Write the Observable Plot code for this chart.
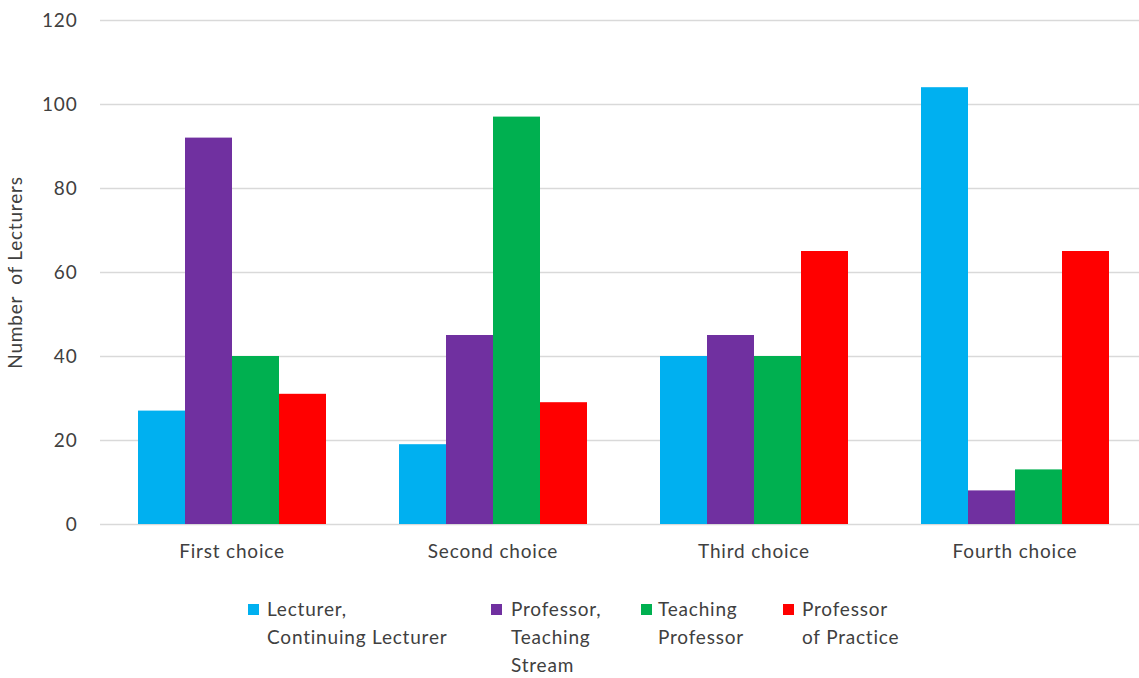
<!DOCTYPE html>
<html>
<head>
<meta charset="utf-8">
<script src="https://cdn.jsdelivr.net/npm/d3@7"></script>
<script src="https://cdn.jsdelivr.net/npm/@observablehq/plot@0.6"></script>
<style>
  html, body { margin: 0; padding: 0; background: #fff; }
  #wrap { position: relative; width: 1139px; height: 678px; font-family: Lato, "Open Sans", sans-serif; color: #404040; overflow: hidden; }
  #wrap > svg { position: absolute; left: 0; top: 0; }
  .leg { position: absolute; top: 595px; font-size: 19px; letter-spacing: 0.8px; line-height: 28px; color: #404040; white-space: nowrap; }
  .sw { position: absolute; width: 11px; height: 11px; top: 604px; }
</style>
</head>
<body>
<div id="wrap"></div>
<script>
const choices = ["First choice", "Second choice", "Third choice", "Fourth choice"];
const roles = ["Lecturer, Continuing Lecturer", "Professor, Teaching Stream", "Teaching Professor", "Professor of Practice"];
const legendLines = [["Lecturer,", "Continuing Lecturer"], ["Professor,", "Teaching", "Stream"], ["Teaching", "Professor"], ["Professor", "of Practice"]];
const colors = ["#00b0f0", "#7030a0", "#00b050", "#ff0000"];
const lecturer = [27, 19, 40, 104];
const profTeachingStream = [92, 45, 45, 8];
const teachingProfessor = [40, 97, 40, 13];
const profOfPractice = [31, 29, 65, 65];
const yTicks = [0, 20, 40, 60, 80, 100, 120];

const series = [lecturer, profTeachingStream, teachingProfessor, profOfPractice];
const data = [];
choices.forEach((c, i) => roles.forEach((r, j) => data.push({choice: c, role: r, value: series[j][i]})));

const common = {
  width: 1139,
  height: 580,
  marginTop: 20,
  marginBottom: 56,
  marginLeft: 100
};
const font = {fontFamily: "Lato, 'Open Sans', sans-serif", fontSize: "19px", color: "#404040", letterSpacing: "0.8px"};

const back = Plot.plot({
  ...common,
  marginRight: 0,
  style: {...font, background: "#fff"},
  y: {domain: [0, 120], ticks: yTicks},
  marks: [
    Plot.ruleY(yTicks, {stroke: "#d9d9d9", strokeWidth: 1.5}),
    Plot.axisY({ticks: yTicks, tickSize: 0, tickPadding: 23, label: "Number  of Lecturers", labelAnchor: "center", labelOffset: 92, labelArrow: "none", fontSize: 19})
  ]
});

const front = Plot.plot({
  ...common,
  marginRight: -7,
  style: {...font, background: "transparent", overflow: "visible"},
  y: {domain: [0, 120], axis: null},
  fx: {domain: choices, paddingInner: 0.27, paddingOuter: 0.138, label: null},
  x: {domain: roles, padding: 0, axis: null},
  color: {domain: roles, range: colors},
  marks: [
    Plot.barY(data, {fx: "choice", x: "role", y: "value", fill: "role", inset: 0}),
    Plot.axisFx({anchor: "bottom", tickSize: 0, tickPadding: 20, label: null, fontSize: 19})
  ]
});
const wrap = document.getElementById("wrap");
wrap.appendChild(back);
wrap.appendChild(front);

const legX = [267, 511, 658, 802];
const swX = [248, 491, 641, 783];
roles.forEach((r, j) => {
  const sw = document.createElement("div");
  sw.className = "sw";
  sw.style.left = swX[j] + "px";
  sw.style.background = colors[j];
  wrap.appendChild(sw);
  const t = document.createElement("div");
  t.className = "leg";
  t.style.left = legX[j] + "px";
  t.innerHTML = legendLines[j].join("<br>");
  wrap.appendChild(t);
});
</script>
</body>
</html>
